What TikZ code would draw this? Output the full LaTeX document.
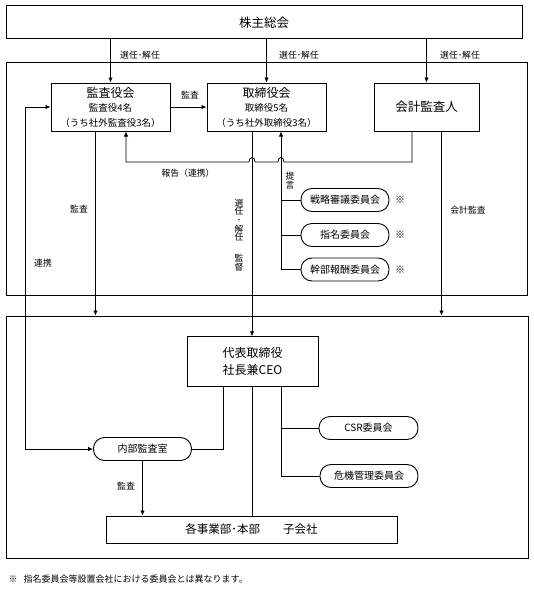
\documentclass[tikz,border=0pt]{standalone}
\usepackage{fontspec}
\setmainfont{Noto Sans CJK JP}
\usetikzlibrary{arrows.meta,calc}
\tikzset{
  box/.style={draw,line width=1pt,inner sep=0pt,align=center},
  pill/.style={draw,line width=0.9pt,rounded corners=11pt,inner sep=0pt,minimum width=98pt,minimum height=23pt,font=\fontsize{10}{12}\selectfont},
  outer/.style={draw,line width=1pt,inner sep=0pt},
  arr/.style={-{Latex[length=5pt,width=4.5pt]},line width=0.8pt},
  arrs/.style={{Latex[length=5pt,width=4.5pt]}-{Latex[length=5pt,width=4.5pt]},line width=0.8pt},
  conn/.style={line width=0.8pt},
  lbl/.style={font=\fontsize{8.8}{9}\selectfont,inner sep=0pt},
  vlbl/.style={font=\fontsize{8.8}{8.7}\selectfont,inner sep=0pt,align=center}
}

\begin{document}
\begin{tikzpicture}[x=1pt,y=-1pt]
  \useasboundingbox (0,0) rectangle (533,594);
  \fill[white] (0,0) rectangle (533,594);

  % frames
  \node[outer,minimum width=521pt,minimum height=232pt] (frameA) at (266.5,179) {};
  \node[outer,minimum width=522pt,minimum height=242pt] (frameB) at (267,437) {};

  % boards
  \node[box,minimum width=516pt,minimum height=33pt,font=\fontsize{12.5}{14}\selectfont] (gms) at (264,22.5) {株主総会};
  \node[box,minimum width=119pt,minimum height=48pt,font=\fontsize{9.5}{14.5}\selectfont] (kansa) at (110.5,107)
    {{\fontsize{12}{14.5}\selectfont 監査役会}\\監査役4名\\（うち社外監査役3名）};
  \node[box,minimum width=119pt,minimum height=48pt,font=\fontsize{9.5}{14.5}\selectfont] (tori) at (266.5,107)
    {{\fontsize{12}{14.5}\selectfont 取締役会}\\取締役5名\\（うち社外取締役3名）};
  \node[box,minimum width=105pt,minimum height=48pt,font=\fontsize{12.5}{14}\selectfont] (kaikei) at (426.5,107) {会計監査人};

  % committees
  \node[pill,minimum width=88pt] (senryaku) at (345,200) {戦略審議委員会};
  \node[pill,minimum width=88pt] (shimei) at (345,235) {指名委員会};
  \node[pill,minimum width=88pt] (kanbu) at (345,269.5) {幹部報酬委員会};
  \foreach \n/\y in {m1/200,m2/235,m3/269.5}
    \node[lbl,font=\fontsize{10}{10}\selectfont] (\n) at (400,\y) {※};

  % executive side
  \node[box,minimum width=131pt,minimum height=49.5pt,font=\fontsize{12}{17}\selectfont] (daihyo) at (252.5,361.5) {代表取締役\\社長兼CEO};
  \node[pill,minimum width=99pt] (csr) at (368.5,428) {CSR委員会};
  \node[pill] (kiki) at (369,476) {危機管理委員会};
  \node[pill] (naibu) at (142.5,449) {内部監査室};
  \node[box,minimum width=291pt,minimum height=27pt,font=\fontsize{11.5}{13}\selectfont] (jigyo) at (251.5,529.5) {各事業部･本部\quad\quad 子会社};

  \node[anchor=west,inner sep=0pt,font=\fontsize{9}{10}\selectfont] (note) at (8.5,579.5) {※\hspace{6pt}指名委員会等設置会社における委員会とは異なります。};

  % shareholders
  \foreach \n in {kansa,tori,kaikei}
    \draw[arr] (gms.south -| \n.north) -- (\n.north);
  \node[lbl] (s1) at (140,55) {選任･解任};
  \node[lbl] (s2) at (299,55) {選任･解任};
  \node[lbl] (s3) at (460,55) {選任･解任};

  \draw[arr] (kansa.east) -- (tori.west);
  \node[lbl] (kansaL) at (190,95) {監査};

  % report line with hops
  \coordinate (dn) at ([xshift=-14.5pt]tori.south);
  \coordinate (tg) at ([xshift=14.5pt]tori.south);
  \coordinate (rp) at (0,162);
  \draw[arr] ([xshift=-14.5pt]kaikei.south) |- ($(tg|-rp)+(3,0)$)
    .. controls +(0,-6) and +(0,-6) .. ($(tg|-rp)+(-3,0)$) -- ($(dn|-rp)+(3,0)$)
    .. controls +(0,-6) and +(0,-6) .. ($(dn|-rp)+(-3,0)$) -| ([xshift=15.5pt]kansa.south);
  \node[lbl] (hokoku) at (188,173) {報告（連携）};

  % proposals
  \draw[arr] (kanbu.west) -| (tg);
  \draw[conn] (senryaku.west) -- (senryaku.west -| tg);
  \draw[conn] (shimei.west) -- (shimei.west -| tg);
  \node[vlbl] (teigen) at (290,181) {提\\言};

  % supervision
  \draw[arr] (dn) -- (dn |- daihyo.north);
  \node[vlbl] (kantoku) at (239,235) {選\\任\\･\\解\\任\\[12pt]監\\督};

  % audits
  \draw[arr] ([xshift=-15pt]kansa.south) -- ([xshift=-15pt]kansa.south |- frameB.north);
  \node[lbl] (kansa2) at (79,209) {監査};
  \draw[arr] ([xshift=15pt]kaikei.south) -- ([xshift=15pt]kaikei.south |- frameB.north);
  \node[lbl] (kaikeiL) at (468,210) {会計監査};

  % cooperation
  \coordinate (rk) at (25,0);
  \draw[arrs] (kansa.west) -| (rk |- naibu.west) -- (naibu.west);
  \node[lbl] (renkei) at (43,263) {連携};

  % CEO lines
  \draw[conn] ([xshift=-29pt]daihyo.south) |- (naibu.east);
  \draw[conn] (dn |- daihyo.south) -- (dn |- jigyo.north);
  \coordinate (cr) at ([xshift=29pt]daihyo.south);
  \draw[conn] (cr) |- (kiki.west);
  \draw[conn] (cr |- csr.west) -- (csr.west);
  \draw[arr] (naibu.south) -- (naibu.south |- jigyo.north);
  \node[lbl] (kansa3) at (126,486) {監査};
\end{tikzpicture}
\end{document}
